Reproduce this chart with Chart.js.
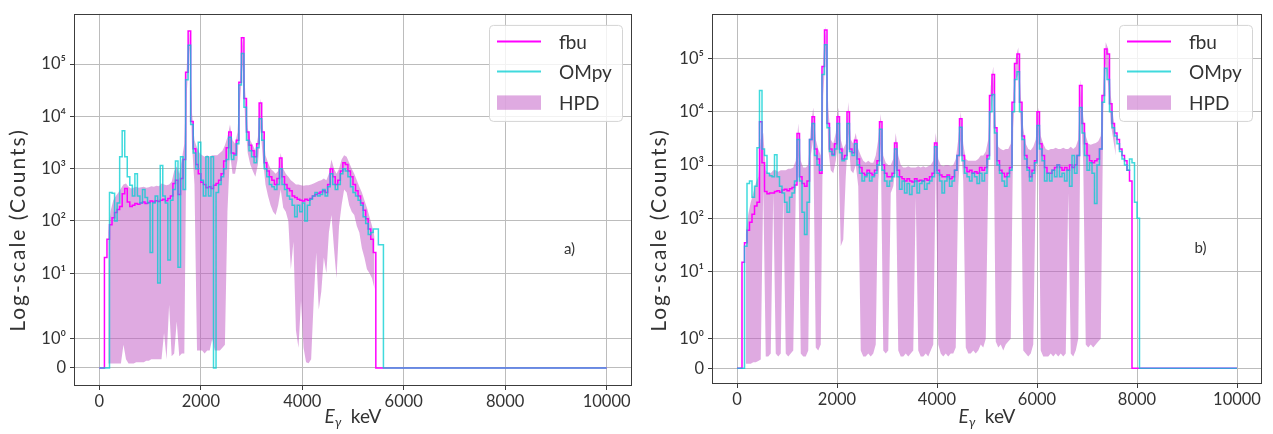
<!DOCTYPE html>
<html>
<head>
<meta charset="utf-8">
<script src="https://cdn.jsdelivr.net/npm/chart.js@4.4.1/dist/chart.umd.min.js"></script>
<style>
  html, body { margin: 0; padding: 0; background: #ffffff; }
  #wrap { position: relative; width: 1273px; height: 434px; overflow: hidden; background: #ffffff; }
  #wrap canvas { position: absolute; top: 0; }
  #panelA { left: 0; }
  #panelB { left: 640px; }
</style>
</head>
<body>
<div id="wrap">
  <canvas id="panelA" width="640" height="434"></canvas>
  <canvas id="panelB" width="633" height="434"></canvas>
</div>
<script>
// ---- spectra: counts per 50 keV bin, bins start at 0 keV ----
const BIN_KEV = 50;
const SPECTRUM_END_KEV = 10000;

// panel a)
const fbuA = [
  0, 0, 20, 45, 85, 115, 145, 165, 190, 330,
  420, 230, 190, 200, 215, 210, 220, 230, 215, 225,
  240, 230, 245, 235, 250, 260, 245, 270, 300, 520,
  600, 320, 650, 1500, 7e4, 4.3e5, 8000, 2400, 1200, 800,
  550, 500, 430, 450, 420, 480, 520, 600, 800, 1400,
  2500, 5000, 2000, 1900, 3500, 4.5e4, 3.2e5, 2.2e4, 5000, 2800,
  2200, 1700, 3000, 1.8e4, 5000, 1300, 900, 700, 600, 500,
  650, 1600, 700, 500, 420, 380, 300, 280, 260, 250,
  240, 260, 250, 270, 300, 320, 340, 360, 380, 350,
  500, 1000, 700, 500, 600, 900, 1300, 1200, 900, 700,
  500, 380, 300, 220, 160, 110, 70, 45, 25, 0,
  0, 0
];
const ompyA = [
  0, 0, 0, 0, 350, 340, 100, 220, 1700, 5300,
  1700, 700, 480, 300, 800, 300, 220, 400, 280, 220,
  25, 220, 300, 6.5, 1150, 300, 220, 18, 250, 400,
  1400, 13, 1700, 400, 5e4, 2.3e5, 7000, 2000, 1000, 3200,
  600, 300, 1700, 300, 1700, 0, 350, 500, 700, 1000,
  1500, 4000, 1500, 1800, 3000, 4e4, 1.6e5, 1.5e4, 3500, 2200,
  1700, 1300, 2500, 9000, 3500, 1000, 700, 500, 450, 400,
  500, 1000, 500, 400, 300, 260, 200, 120, 200, 150,
  220, 100, 200, 260, 300, 350, 300, 320, 400, 300,
  450, 800, 500, 400, 500, 800, 1000, 900, 700, 450,
  350, 300, 250, 200, 120, 90, 55, 60, 70, 70,
  35, 35
];
// highest posterior density band, sampled at bin centres
const hpdLoA = [
  null, null, null, 0.15, 0.15, 0.15, 0.15, 0.15, 0.15, 0.8,
  0.3, 0.15, 0.15, 0.15, 0.2, 0.2, 0.2, 0.2, 0.25, 0.25,
  0.3, 0.3, 0.3, 0.3, 0.3, 1.2, 0.3, 2.5, 0.4, 0.5,
  1.6, 0.4, 0.5, 0.5, 3e4, 2e5, 3000, 500, 0.6, 0.6,
  0.6, 0.5, 0.6, 0.6, 1, 0.6, 0.6, 0.6, 0.7, 0.8,
  150, 2000, 800, 800, 1500, 2e4, 1e5, 8000, 2000, 1200,
  900, 700, 1200, 6000, 1500, 500, 300, 200, 150, 130,
  200, 400, 180, 150, 100, 12, 40, 1.3, 0.7, 3,
  0.7, 0.2, 0.16, 0.3, 3, 25, 2, 4.5, 20, 10,
  60, 130, 30, 8, 80, 200, 400, 350, 200, 150,
  130, 80, 60, 30, 20, 12, 10, 8, 5, null,
  null, null
];
const hpdHiA = [
  null, null, null, 60, 160, 250, 300, 350, 420, 500,
  520, 450, 420, 430, 450, 430, 440, 450, 430, 440,
  460, 450, 470, 460, 520, 500, 480, 500, 560, 900,
  1100, 800, 1500, 3000, 1e5, 4.6e5, 1.2e4, 3500, 2500, 2000,
  1800, 1700, 1800, 1700, 1800, 1800, 1800, 2000, 2200, 2800,
  4000, 7000, 3500, 3000, 5000, 6e4, 3.5e5, 3e4, 6000, 3500,
  2800, 2200, 4000, 2.2e4, 6000, 1800, 1300, 1000, 900, 800,
  900, 2000, 1000, 800, 700, 600, 550, 500, 500, 480,
  470, 480, 480, 500, 520, 550, 580, 600, 650, 600,
  800, 1500, 1000, 800, 1000, 1500, 1800, 1700, 1300, 1000,
  800, 600, 450, 350, 250, 180, 120, 80, 50, null,
  null, null
];

// panel b)
const fbuB = [
  0, 0, 15, 35, 60, 85, 120, 170, 200, 6500,
  1100, 320, 290, 300, 300, 320, 330, 310, 340, 350,
  330, 360, 380, 420, 3900, 600, 450, 400, 500, 3000,
  8000, 2000, 1300, 700, 7e4, 3.4e5, 6000, 2000, 1600, 2500,
  8000, 2000, 1300, 1500, 1e4, 2000, 1700, 2900, 1300, 900,
  700, 650, 800, 700, 650, 800, 1200, 6500, 1000, 700,
  600, 600, 700, 2600, 800, 600, 550, 500, 550, 500,
  480, 550, 500, 520, 500, 550, 520, 600, 700, 2600,
  800, 650, 600, 600, 650, 550, 600, 800, 1500, 7400,
  1500, 900, 750, 800, 700, 750, 700, 900, 800, 900,
  1500, 2e4, 5e4, 5000, 1200, 800, 700, 600, 700, 900,
  1.5e4, 8e4, 1.2e5, 1.5e4, 3500, 1500, 900, 600, 800, 1200,
  1e4, 2500, 1500, 900, 700, 700, 800, 900, 1000, 900,
  800, 900, 800, 1000, 900, 1000, 1500, 3.1e4, 6000, 2500,
  1500, 1200, 1100, 1200, 1300, 2000, 2e4, 1.5e5, 1.2e5, 1.4e4,
  6000, 4000, 3000, 2000, 1500, 1200, 800, 500, 0, 0,
  0
];
const ompyB = [
  0, 0, 0, 30, 450, 500, 250, 400, 2100, 2.5e4,
  2000, 1500, 700, 630, 600, 1550, 600, 400, 300, 200,
  130, 250, 300, 500, 3000, 500, 130, 50, 200, 3000,
  6000, 1500, 1000, 800, 5e4, 1.8e5, 5000, 1800, 1500, 2000,
  6000, 1700, 1200, 1300, 6000, 1800, 1500, 2500, 1000, 700,
  500, 600, 700, 500, 600, 700, 1000, 4700, 800, 500,
  400, 500, 600, 2000, 600, 350, 500, 300, 450, 280,
  400, 500, 300, 450, 500, 350, 450, 500, 600, 2200,
  700, 500, 300, 500, 600, 400, 500, 800, 1500, 5100,
  1200, 700, 600, 500, 700, 600, 450, 700, 500, 700,
  1300, 1e4, 2.1e4, 4000, 1000, 700, 500, 400, 600, 800,
  1e4, 4e4, 5.6e4, 1e4, 3000, 1300, 800, 500, 700, 1100,
  5500, 2000, 1200, 500, 700, 500, 800, 600, 1000, 600,
  700, 500, 800, 400, 1500, 700, 1500, 1.2e4, 4000, 1500,
  800, 1100, 700, 190, 1000, 2000, 1.5e4, 6.5e4, 4e4, 1e4,
  5000, 3500, 2500, 1800, 1300, 1000, 800, 1300, 1100, 200,
  100
];
const hpdLoB = [
  null, null, null, 0.15, 0.15, 0.15, 0.2, 0.2, 0.25, 0.3,
  400, 0.4, 0.4, 0.5, 300, 0.5, 0.4, 0.5, 300, 0.5,
  0.4, 0.5, 0.6, 300, 1500, 0.5, 0.4, 0.4, 0.6, 1500,
  3000, 0.7, 0.6, 0.8, 2e4, 1.5e5, 2000, 800, 700, 1200,
  3000, 30, 40, 600, 4000, 800, 700, 1000, 400, 0.6,
  0.4, 0.4, 0.5, 0.4, 0.5, 0.8, 500, 2500, 0.6, 0.5,
  0.6, 300, 400, 1000, 0.6, 0.4, 0.4, 0.5, 0.4, 0.5,
  0.6, 250, 0.6, 0.4, 0.4, 0.5, 0.4, 0.6, 0.8, 1000,
  0.8, 0.5, 0.4, 0.5, 0.4, 0.5, 0.5, 0.7, 400, 3000,
  500, 0.7, 0.5, 0.5, 0.6, 0.5, 0.6, 0.8, 0.7, 1,
  600, 8000, 2.5e4, 0.9, 0.7, 0.8, 0.6, 0.8, 0.9, 1,
  5000, 4e4, 5e4, 5000, 0.6, 0.5, 0.4, 0.5, 0.8, 500,
  4000, 0.6, 0.4, 0.4, 0.4, 0.5, 0.4, 0.5, 0.4, 0.5,
  0.4, 0.5, 300, 0.5, 0.4, 0.6, 1, 1.5e4, 1000, 0.8,
  0.7, 0.8, 0.7, 0.8, 0.9, 1, 1e4, 8e4, 3e4, 6000,
  3000, 1500, null, null, null, null, null, null, null, null,
  null
];
const hpdHiB = [
  null, null, null, 50, 120, 200, 300, 450, 600, 3000,
  4000, 800, 700, 700, 800, 800, 750, 800, 800, 800,
  850, 850, 900, 1200, 6000, 1200, 900, 900, 1000, 5000,
  1.2e4, 3000, 2000, 1500, 1e5, 4e5, 1.2e4, 3000, 2500, 4000,
  1.2e4, 3000, 2000, 2500, 1.5e4, 3000, 2500, 4000, 2000, 1500,
  1200, 1100, 1200, 1100, 1100, 1500, 3000, 9000, 1500, 1100,
  1000, 1000, 1300, 4000, 1500, 1000, 900, 900, 950, 900,
  900, 900, 950, 900, 950, 900, 950, 1000, 1200, 4000,
  1300, 1000, 950, 1000, 1000, 950, 1000, 1300, 3000, 1e4,
  2500, 1300, 1200, 1200, 1200, 1200, 1300, 1500, 1500, 1800,
  3000, 3e4, 7e4, 6000, 2200, 2000, 1900, 2000, 2000, 2500,
  2e4, 1e5, 1.6e5, 2e4, 5000, 2500, 2000, 1900, 2200, 3000,
  1.2e4, 3500, 2500, 2000, 1900, 2000, 2000, 2100, 2000, 2000,
  2100, 2000, 2000, 2200, 2000, 2200, 3000, 4e4, 8000, 3500,
  2500, 2400, 2500, 2600, 2800, 3500, 3e4, 2e5, 1.5e5, 2e4,
  8000, 4000, null, null, null, null, null, null, null, null,
  null
];

// ---- axes ----
const xTickValues = [0, 2000, 4000, 6000, 8000, 10000];
const yTickValues = [0, 1, 10, 100, 1000, 10000, 100000];
const yTickLabels = ['0', '10\u2070', '10\u00b9', '10\u00b2', '10\u00b3', '10\u2074', '10\u2075'];
const seriesLabels = ['fbu', 'OMpy', 'HPD'];
const yAxisTitle = 'Log-scale (Counts)';
const panelTags = ['a)', 'b)'];

// ---- styling ----
const FONT = 'Lato, "DejaVu Sans", sans-serif';
const TEXT = '#333333';
const GRID = '#bcbcbc';
const FBU_COLOR = '#ff00ff';
const OMPY_COLOR = 'rgba(0, 206, 209, 0.75)';
const HPD_COLOR = 'rgba(191, 85, 196, 0.5)';

// ---- symmetric log scale (linear part below |v| = 2, one decade wide) ----
const LINTHRESH = 2, LINSCALE = 1, LOG_BASE = 10;
const LINSCALE_ADJ = LINSCALE / (1 - 1 / LOG_BASE);
function symlog(v) {
  const a = Math.abs(v);
  if (a <= LINTHRESH) return v * LINSCALE_ADJ / LINTHRESH;
  return Math.sign(v) * (LINSCALE_ADJ + Math.log10(a / LINTHRESH));
}
function symexp(t) {
  const a = Math.abs(t);
  if (a <= LINSCALE_ADJ) return t * LINTHRESH / LINSCALE_ADJ;
  return Math.sign(t) * LINTHRESH * Math.pow(LOG_BASE, a - LINSCALE_ADJ);
}
class SymLogScale extends Chart.Scale {
  determineDataLimits() {
    this.min = this.options.min;
    this.max = this.options.max;
  }
  buildTicks() {
    return yTickValues.map(v => ({ value: v }));
  }
  configure() {
    super.configure();
    this._t0 = symlog(this.min);
    this._t1 = symlog(this.max);
  }
  getLabelForValue(v) { return String(v); }
  getPixelForValue(v) {
    if (v === null || v === undefined || isNaN(v)) return NaN;
    return this.getPixelForDecimal((symlog(v) - this._t0) / (this._t1 - this._t0));
  }
  getValueForPixel(p) {
    return symexp(this._t0 + this.getDecimalForPixel(p) * (this._t1 - this._t0));
  }
}
SymLogScale.id = 'symlog';
SymLogScale.defaults = {};
Chart.register(SymLogScale);

// ---- data helpers ----
function stepPoints(values) {
  const pts = values.map((v, i) => ({ x: i * BIN_KEV, y: v }));
  pts.push({ x: values.length * BIN_KEV, y: 0 });
  pts.push({ x: SPECTRUM_END_KEV, y: 0 });
  return pts;
}
function bandPoints(values) {
  return values.map((v, i) => ({ x: (i + 0.5) * BIN_KEV, y: v }));
}

// ---- frame, legend, panel tag and axis titles ----
function roundedRect(ctx, x, y, w, h, r) {
  ctx.beginPath();
  ctx.moveTo(x + r, y);
  ctx.lineTo(x + w - r, y);
  ctx.arcTo(x + w, y, x + w, y + r, r);
  ctx.lineTo(x + w, y + h - r);
  ctx.arcTo(x + w, y + h, x + w - r, y + h, r);
  ctx.lineTo(x + r, y + h);
  ctx.arcTo(x, y + h, x, y + h - r, r);
  ctx.lineTo(x, y + r);
  ctx.arcTo(x, y, x + r, y, r);
  ctx.closePath();
}

const panelDecor = {
  id: 'panelDecor',
  afterDraw(chart, args, opts) {
    const { ctx, chartArea: ca } = chart;
    const w = ca.right - ca.left, h = ca.bottom - ca.top;
    const ds = chart.data.datasets;
    ctx.save();

    // axes frame
    ctx.strokeStyle = '#3c3c3c';
    ctx.lineWidth = 1;
    ctx.strokeRect(Math.round(ca.left) + 0.5, Math.round(ca.top) + 0.5,
                   Math.round(w) - 1, Math.round(h) - 1);

    // panel tag
    ctx.fillStyle = TEXT;
    ctx.font = '15px ' + FONT;
    ctx.textAlign = 'center';
    ctx.textBaseline = 'middle';
    ctx.fillText(opts.tag, ca.left + 0.888 * w, ca.top + 0.633 * h);

    // legend
    const bw = 133, bh = 96;
    const bx = ca.right - 10 - bw, by = ca.top + 11;
    roundedRect(ctx, bx + 0.5, by + 0.5, bw, bh, 4);
    ctx.fillStyle = 'rgba(255,255,255,0.8)';
    ctx.fill();
    ctx.strokeStyle = '#d4d4d4';
    ctx.lineWidth = 1;
    ctx.stroke();
    const rows = [16.7, 46.7, 77.7];
    const entries = [
      { text: seriesLabels[0], kind: 'line', color: ds[2].borderColor },
      { text: seriesLabels[1], kind: 'line', color: ds[3].borderColor },
      { text: seriesLabels[2], kind: 'patch', color: ds[1].backgroundColor }
    ];
    ctx.font = '19px ' + FONT;
    ctx.textAlign = 'left';
    ctx.textBaseline = 'middle';
    entries.forEach((e, k) => {
      const ry = by + rows[k];
      if (e.kind === 'line') {
        ctx.strokeStyle = e.color;
        ctx.lineWidth = 2;
        ctx.beginPath();
        ctx.moveTo(bx + 8, ry);
        ctx.lineTo(bx + 52, ry);
        ctx.stroke();
      } else {
        ctx.fillStyle = e.color;
        ctx.fillRect(bx + 8, ry - 7.2, 44, 14.4);
      }
      ctx.fillStyle = TEXT;
      ctx.fillText(e.text, bx + 70, ry + 1);
    });

    // x axis title: E_gamma keV
    const cx = (ca.left + ca.right) / 2;
    const base = 423;
    ctx.textBaseline = 'alphabetic';
    ctx.font = 'italic 19px ' + FONT;
    const wE = ctx.measureText('E').width;
    ctx.font = 'italic 13px ' + FONT;
    const wG = ctx.measureText('\u03b3').width;
    ctx.font = '19px ' + FONT;
    const wK = ctx.measureText('\u2002keV').width;
    let tx = cx - (wE + wG + wK) / 2;
    ctx.fillStyle = TEXT;
    ctx.font = 'italic 19px ' + FONT;
    ctx.fillText('E', tx, base);
    tx += wE;
    ctx.font = 'italic 13px ' + FONT;
    ctx.fillText('\u03b3', tx, base + 4);
    tx += wG;
    ctx.font = '19px ' + FONT;
    ctx.fillText('\u2002keV', tx, base);

    // y axis title
    ctx.translate(opts.yTitleX, 231);
    ctx.rotate(-Math.PI / 2);
    ctx.font = '21px ' + FONT;
    ctx.letterSpacing = '0px';
    const w0 = ctx.measureText(yAxisTitle).width;
    const spacing = Math.max(0, Math.min(2, (205 - w0) / (yAxisTitle.length - 1)));
    ctx.letterSpacing = spacing.toFixed(2) + 'px';
    ctx.textAlign = 'center';
    ctx.textBaseline = 'middle';
    ctx.fillText(yAxisTitle, spacing / 2, 0);

    ctx.restore();
  }
};

function makeChart(canvasId, p) {
  const tickFont = { family: FONT, size: 16.5 };
  return new Chart(document.getElementById(canvasId), {
    type: 'line',
    data: {
      datasets: [
        { label: seriesLabels[2], data: bandPoints(p.hpdLo), borderColor: 'rgba(0,0,0,0)', borderWidth: 0,
          pointRadius: 0, fill: false, order: 3 },
        { label: seriesLabels[2], data: bandPoints(p.hpdHi), borderColor: 'rgba(0,0,0,0)', borderWidth: 0,
          pointRadius: 0, fill: '-1', backgroundColor: HPD_COLOR, order: 3 },
        { label: seriesLabels[0], data: stepPoints(p.fbu), stepped: true, borderColor: FBU_COLOR,
          borderWidth: 1.5, pointRadius: 0, fill: false, order: 2 },
        { label: seriesLabels[1], data: stepPoints(p.ompy), stepped: true, borderColor: OMPY_COLOR,
          borderWidth: 1.5, pointRadius: 0, fill: false, order: 1 }
      ]
    },
    options: {
      responsive: false,
      animation: false,
      devicePixelRatio: 1,
      events: [],
      layout: { padding: { left: 0, top: p.padTop, right: p.padRight, bottom: 0 } },
      plugins: {
        legend: { display: false },
        tooltip: { enabled: false },
        panelDecor: { tag: p.tag, yTitleX: p.yTitleX }
      },
      scales: {
        x: {
          type: 'linear', position: 'bottom', axis: 'x',
          min: -500, max: 10500,
          afterBuildTicks: s => { s.ticks = xTickValues.map(v => ({ value: v })); },
          afterFit: s => { s.height = p.xAxisHeight; },
          ticks: { font: tickFont, color: TEXT, padding: 2, maxRotation: 0, autoSkip: false,
                   callback: v => String(v) },
          grid: { color: GRID, lineWidth: 1, tickLength: 4, tickColor: '#3c3c3c', tickWidth: 1 },
          border: { display: false }
        },
        y: {
          type: 'symlog', position: 'left', axis: 'y',
          min: p.yMin, max: p.yMax,
          afterFit: s => { s.width = p.yAxisWidth; },
          ticks: { font: tickFont, color: TEXT, padding: 4, autoSkip: false,
                   callback: v => yTickLabels[yTickValues.indexOf(v)] },
          grid: { color: GRID, lineWidth: 1, tickLength: 4, tickColor: '#3c3c3c', tickWidth: 1 },
          border: { display: false }
        }
      }
    },
    plugins: [panelDecor]
  });
}

makeChart('panelA', {
  fbu: fbuA, ompy: ompyA, hpdLo: hpdLoA, hpdHi: hpdHiA,
  yMin: -0.62, yMax: 9.1e5, tag: panelTags[0],
  padTop: 8, padRight: 8, yAxisWidth: 74, xAxisHeight: 48, yTitleX: 18
});
makeChart('panelB', {
  fbu: fbuB, ompy: ompyB, hpdLo: hpdLoB, hpdHi: hpdHiB,
  yMin: -0.53, yMax: 6.8e5, tag: panelTags[1],
  padTop: 9, padRight: 11, yAxisWidth: 72, xAxisHeight: 50, yTitleX: 19
});
</script>
</body>
</html>
